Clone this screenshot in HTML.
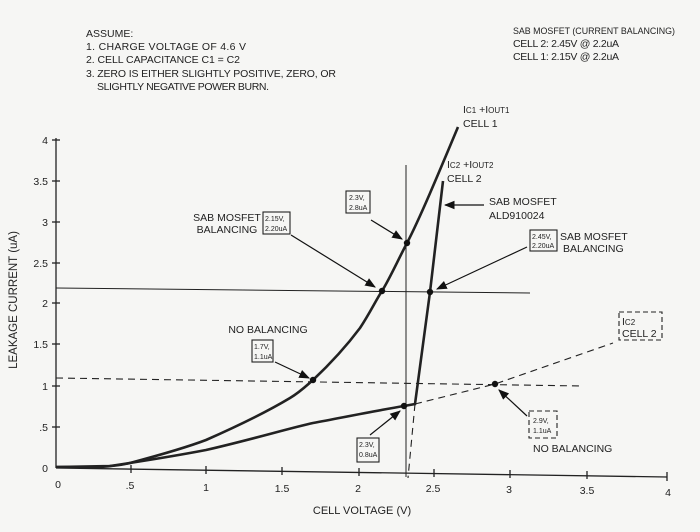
<!DOCTYPE html>
<html><head><meta charset="utf-8"><style>
html,body{margin:0;padding:0;background:#f6f6f4;}
svg{display:block;font-family:"Liberation Sans",Arial,sans-serif;fill:#222;}
</style></head><body>
<svg width="700" height="532" viewBox="0 0 700 532" xmlns="http://www.w3.org/2000/svg">
<defs><marker id="ah" viewBox="0 0 10 10" refX="9" refY="5" markerWidth="9" markerHeight="9" orient="auto"><path d="M0,1 L10,5 L0,9 z" fill="#111"/></marker></defs>
<rect width="700" height="532" fill="#f6f6f4"/>
<g font-size="10.5" fill="#222">
<text x="86" y="37">ASSUME:</text>
<text x="86" y="50" textLength="160">1. CHARGE VOLTAGE OF 4.6 V</text>
<text x="86" y="63" textLength="154">2. CELL CAPACITANCE C1 = C2</text>
<text x="86" y="77" textLength="250">3. ZERO IS EITHER SLIGHTLY POSITIVE, ZERO, OR</text>
<text x="97" y="90" textLength="172">SLIGHTLY NEGATIVE POWER BURN.</text>
<text x="513" y="34" font-size="9.2" textLength="162" lengthAdjust="spacingAndGlyphs">SAB MOSFET (CURRENT BALANCING)</text>
<text x="513" y="47" textLength="106">CELL 2: 2.45V @ 2.2uA</text>
<text x="513" y="60" textLength="106">CELL 1: 2.15V @ 2.2uA</text>
</g>
<g stroke="#222" stroke-width="1.3" fill="none">
<line x1="56" y1="138" x2="56" y2="468"/>
<line x1="56" y1="468" x2="667" y2="477"/>
<line x1="52" y1="140" x2="60" y2="140"/><line x1="52" y1="181" x2="60" y2="181"/><line x1="52" y1="222" x2="60" y2="222"/><line x1="52" y1="263" x2="60" y2="263"/><line x1="52" y1="303" x2="60" y2="303"/><line x1="52" y1="344" x2="60" y2="344"/><line x1="52" y1="386" x2="60" y2="386"/><line x1="52" y1="427" x2="60" y2="427"/>
<line x1="131" y1="465" x2="131" y2="473"/><line x1="206" y1="466" x2="206" y2="474"/><line x1="282" y1="467" x2="282" y2="475"/><line x1="359" y1="468" x2="359" y2="476"/><line x1="434" y1="469" x2="434" y2="477"/><line x1="510" y1="470" x2="510" y2="478"/><line x1="587" y1="471" x2="587" y2="479"/><line x1="667" y1="472" x2="667" y2="481"/>
</g>
<g font-size="10.5" fill="#222" text-anchor="end">
<text x="48" y="144">4</text><text x="48" y="185">3.5</text><text x="48" y="226">3</text><text x="48" y="267">2.5</text><text x="48" y="307">2</text><text x="48" y="348">1.5</text><text x="48" y="390">1</text><text x="48" y="431">.5</text><text x="48" y="472">0</text>
</g>
<g font-size="10.5" fill="#222" text-anchor="middle">
<text x="58" y="488">0</text><text x="130" y="489">.5</text><text x="206" y="491">1</text><text x="282" y="492">1.5</text><text x="358" y="492">2</text><text x="433" y="492">2.5</text><text x="509" y="493">3</text><text x="587" y="494">3.5</text><text x="668" y="496">4</text>
<text x="362" y="514" font-size="11">CELL VOLTAGE (V)</text>
<text transform="translate(17,300) rotate(-90)" font-size="11.5">LEAKAGE CURRENT (uA)</text>
</g>
<g stroke="#222" fill="none">
<line x1="56" y1="288" x2="530" y2="293" stroke-width="1"/>
<line x1="406" y1="165" x2="406" y2="477" stroke-width="1"/>
<line x1="56" y1="378" x2="583" y2="386" stroke-width="1.1" stroke-dasharray="7,5"/>
<path d="M415,404 L408,478" stroke-width="1.1" stroke-dasharray="7,5"/>
<path d="M415,404 L495,384 L613,343" stroke-width="1.1" stroke-dasharray="7,5"/>
<path d="M56,467 L100,467 C115,466 122,465 130,463 C160,455 185,448 206,440 C240,425 270,410 290,398 C300,392 306,386 313,380 C330,364 345,348 360,328 C370,313 376,300 382,291 C390,278 398,260 407,243 C420,218 440,170 458,127" stroke-width="2.6"/>
<path d="M56,467 L110,466 C150,460 180,455 206,450 C250,440 290,428 313,423 C350,416 380,410 404,406 L415,404 L430,292 L443,181" stroke-width="2.6"/>
</g>
<g fill="#111">
<circle cx="407" cy="243" r="3.2"/><circle cx="382" cy="291" r="3.2"/><circle cx="430" cy="292" r="3.2"/><circle cx="313" cy="380" r="3.2"/><circle cx="404" cy="406" r="3.2"/><circle cx="495" cy="384" r="3.2"/>
</g>
<g stroke="#111" stroke-width="1.2" fill="none" marker-end="url(#ah)">
<line x1="291" y1="235" x2="375" y2="287"/>
<line x1="371" y1="220" x2="402" y2="239"/>
<line x1="275" y1="362" x2="309" y2="378"/>
<line x1="484" y1="205" x2="445" y2="205"/>
<line x1="527" y1="247" x2="437" y2="289"/>
<line x1="527" y1="416" x2="499" y2="390"/>
<line x1="370" y1="435" x2="400" y2="411"/>
</g>
<g fill="none" stroke="#222" stroke-width="1.1">
<rect x="263" y="212" width="27" height="22"/>
<rect x="346" y="191" width="24" height="22"/>
<rect x="252" y="340" width="21" height="22"/>
<rect x="530" y="230" width="27" height="21"/>
<rect x="357" y="438" width="22" height="24"/>
<rect x="619" y="312" width="43" height="28" stroke-dasharray="5,3"/>
<rect x="529" y="411" width="28" height="27" stroke-dasharray="5,3"/>
</g>
<g font-size="7" fill="#222">
<text x="265" y="221">2.15V,</text><text x="265" y="231">2.20uA</text>
<text x="349" y="200">2.3V,</text><text x="349" y="210">2.8uA</text>
<text x="254" y="349">1.7V,</text><text x="254" y="359">1.1uA</text>
<text x="532" y="239">2.45V,</text><text x="532" y="248">2.20uA</text>
<text x="359" y="447">2.3V,</text><text x="359" y="457">0.8uA</text>
<text x="533" y="423">2.9V,</text><text x="533" y="433">1.1uA</text>
</g>
<g font-size="10.5" fill="#222">
<text x="227" y="221" text-anchor="middle">SAB MOSFET</text><text x="227" y="233" text-anchor="middle">BALANCING</text>
<text x="268" y="333" text-anchor="middle">NO BALANCING</text>
<text x="463" y="113">I<tspan font-size="8">C1</tspan> +I<tspan font-size="8">OUT1</tspan></text><text x="463" y="127">CELL 1</text>
<text x="447" y="168">I<tspan font-size="8">C2</tspan> +I<tspan font-size="8">OUT2</tspan></text><text x="447" y="182">CELL 2</text>
<text x="489" y="205">SAB MOSFET</text><text x="489" y="219">ALD910024</text>
<text x="560" y="240">SAB MOSFET</text><text x="563" y="252">BALANCING</text>
<text x="622" y="325">I<tspan font-size="8">C2</tspan></text><text x="622" y="337">CELL 2</text>
<text x="533" y="452">NO BALANCING</text>
</g>
</svg>
</body></html>
